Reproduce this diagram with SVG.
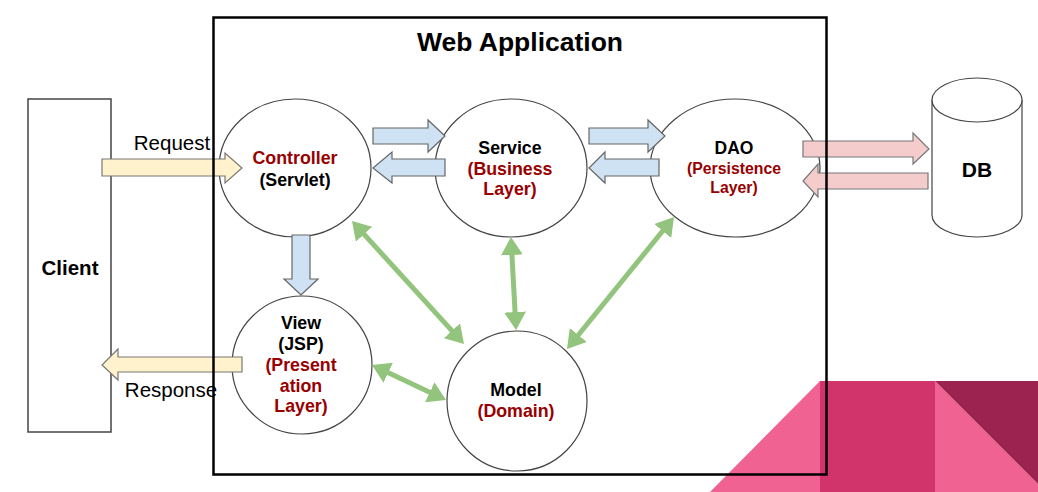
<svg xmlns="http://www.w3.org/2000/svg" width="1038" height="492" viewBox="0 0 1038 492">
<style>
text{font-family:"Liberation Sans",Arial,sans-serif;text-anchor:middle}
.b{font-weight:bold}
.r{fill:#990000;font-weight:bold}
.n{font-size:17.8px}
.node{fill:#fff;stroke:#444;stroke-width:1.2}
.blue{fill:#cfe2f3;stroke:#666;stroke-width:1.2}
.yel{fill:#fff2cc;stroke:#777;stroke-width:1.2}
.pink{fill:#f4cccc;stroke:#777;stroke-width:1.2}
.g{stroke:#93c47d;stroke-width:5;fill:none;marker-start:url(#gh);marker-end:url(#gh)}
</style>
<defs>
<marker id="gh" markerUnits="userSpaceOnUse" markerWidth="20" markerHeight="22" refX="8" refY="11" orient="auto-start-reverse" viewBox="0 0 20 22">
<path d="M0,0 L18,11 L0,22 z" fill="#93c47d"/>
</marker>
</defs>
<g id="decoration">
<polygon points="710,492 820,381 820,492" fill="#f06292"/>
<rect x="820" y="381" width="115" height="111" fill="#d1346a"/>
<polygon points="935,381 1038,484 1038,492 935,492" fill="#f06292"/>
<polygon points="935,381 1038,381 1038,484" fill="#9c2350"/>
</g>
<g id="client">
<rect x="28" y="99" width="83" height="333" fill="#fff" stroke="#444" stroke-width="1.5"/>
<text x="70" y="275" class="b" font-size="20.5">Client</text>
</g>
<g id="db">
<path d="M932,100 L932,215 A45,22 0 0 0 1022,215 L1022,100" fill="#fff" stroke="#444" stroke-width="1.2"/>
<ellipse cx="977" cy="100" rx="45" ry="22" fill="#fff" stroke="#444" stroke-width="1.2"/>
<text x="977" y="177" class="b" font-size="21">DB</text>
</g>
<g id="controller">
<ellipse class="node" cx="295" cy="168" rx="76" ry="69"/>
<text x="295" y="164" class="r n">Controller</text>
<text x="295" y="186" class="b n">(Servlet)</text>
</g>
<g id="service">
<ellipse class="node" cx="511" cy="168" rx="76" ry="69"/>
<text x="510" y="154" class="b n">Service</text>
<text x="510" y="175" class="r n">(Business</text>
<text x="510" y="195" class="r n">Layer)</text>
</g>
<g id="dao">
<ellipse class="node" cx="735" cy="168" rx="85" ry="69"/>
<text x="734" y="154" class="b" font-size="17.5">DAO</text>
<text x="734" y="174" class="r" font-size="15.8">(Persistence</text>
<text x="734" y="193" class="r" font-size="15.8">Layer)</text>
</g>
<g id="view">
<ellipse class="node" cx="302" cy="365" rx="70" ry="69"/>
<text x="301" y="329" class="b n">View</text>
<text x="301" y="350" class="b n">(JSP)</text>
<text x="301" y="371" class="r n">(Present</text>
<text x="301" y="392" class="r n">ation</text>
<text x="301" y="412" class="r n">Layer)</text>
</g>
<g id="model">
<ellipse class="node" cx="517" cy="401" rx="70" ry="70"/>
<text x="516" y="396" class="b n">Model</text>
<text x="516" y="417" class="r n">(Domain)</text>
</g>
<g id="connectors">
<polygon class="yel" points="102,159 225,159 225,153 242,168 225,183 225,176 102,176"/>
<polygon class="yel" points="242,357 118,357 118,349 102,365 118,380 118,372 242,372"/>
<polygon class="blue" points="373,128 428,128 428,120 445,136 428,152 428,144 373,144"/>
<polygon class="blue" points="445,159 392,159 392,152 373,168 392,183 392,176 445,176"/>
<polygon class="blue" points="589,128 648,128 648,120 665,136 648,152 648,144 589,144"/>
<polygon class="blue" points="659,159 605,159 605,152 589,168 605,183 605,176 659,176"/>
<polygon class="pink" points="803,141 913,141 913,133 929,149 913,164 913,157 803,157"/>
<polygon class="pink" points="928,173 818,173 818,164 803,181 818,197 818,189 928,189"/>
<polygon class="blue" points="292,235 310,235 310,279 318,279 301,295 284,279 292,279"/>
<line class="g" x1="358.7" y1="228.4" x2="457.3" y2="336.6"/>
<line class="g" x1="511.5" y1="247" x2="515.5" y2="320"/>
<line class="g" x1="667.7" y1="224.8" x2="573.3" y2="341.2"/>
<line class="g" x1="381" y1="369.3" x2="437" y2="395.7"/>
<text x="172" y="150" font-size="20.5">Request</text>
<text x="171" y="397" font-size="20.5">Response</text>
</g>
<g id="webapp">
<rect x="213.5" y="17.5" width="613" height="457" fill="none" stroke="#000" stroke-width="2.5"/>
<text x="520" y="51" class="b" font-size="26.5">Web Application</text>
</g>
</svg>
